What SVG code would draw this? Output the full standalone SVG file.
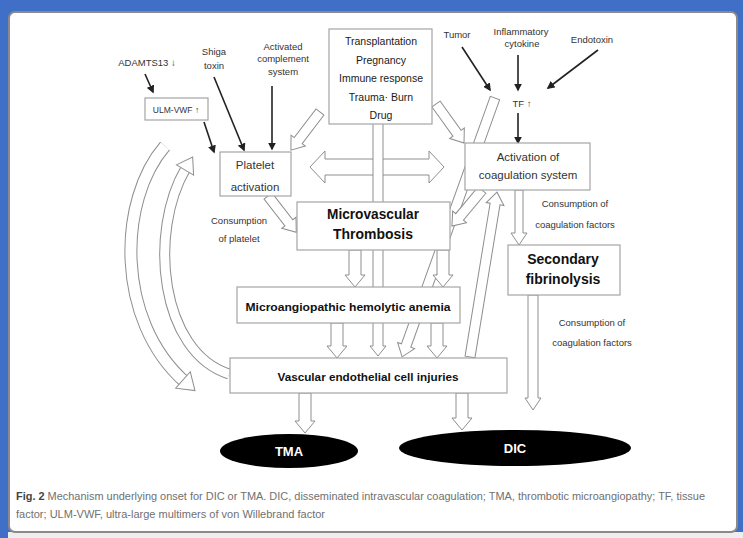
<svg xmlns="http://www.w3.org/2000/svg" width="743" height="538" viewBox="0 0 743 538">
<defs>
<marker id="ah" viewBox="0 0 10 10" refX="8" refY="5" markerWidth="5" markerHeight="5" orient="auto"><path d="M0,0 L10,5 L0,10 z" fill="#222"/></marker>
<style>
.lbl{font-family:'Liberation Sans',Arial,sans-serif;font-size:9.5px;fill:#333;text-anchor:middle}
.mid{font-size:11.5px;fill:#333}
.trg{font-size:10.5px;fill:#1a1a1a}
.bold{font-weight:bold;fill:#111}
.box{fill:#fff;stroke:#a5a5a5;stroke-width:1.2}
.hol{fill:#fff;stroke:#8e8e8e;stroke-width:1}
.blk{stroke:#222;stroke-width:1.6;fill:none;marker-end:url(#ah)}
.cap{font-family:'Liberation Sans',Arial,sans-serif;font-size:10px;fill:#707070}
</style>
</defs>
<rect x="0" y="0" width="743" height="538" fill="#3f6fc6"/>
<rect x="8" y="532" width="735" height="6" fill="#eeeeee"/>
<rect x="9" y="12" width="728" height="520" rx="6" fill="#fff" stroke="#8a8a8a" stroke-width="2"/>

<g id="connectors">
  <path class="blk" d="M145,74 L153,92"/>
  <path class="blk" d="M204,122 L214,152"/>
  <path class="blk" d="M214,77 L244,150"/>
  <path class="blk" d="M272,86 L272,149"/>
  <path class="blk" d="M462,47 L490,90"/>
  <path class="blk" d="M518,55 L518,90"/>
  <path class="blk" d="M598,50 L548,88"/>
  <path class="blk" d="M518,113 L518,143"/>
  <polygon class="hol" transform="translate(495,98) rotate(109.75)" points="0,-5 263,-5 263,-9 275,0 263,9 263,5 0,5"/>
  <polygon class="hol" transform="translate(470,357) rotate(-80.7)" points="0,-5 155,-5 155,-9 167,0 155,9 155,5 0,5"/>
  <path d="M165,146 C118,200 115,320 185,382" fill="none" stroke="#8e8e8e" stroke-width="13"/>
  <path d="M165,146 C118,200 115,320 185,382" fill="none" stroke="#fff" stroke-width="11"/>
  <polygon class="hol" transform="translate(183,380) rotate(41.5)" points="0,-11 16,0 0,11"/>
  <path d="M229,374 C160,352 148,232 186,168" fill="none" stroke="#8e8e8e" stroke-width="11"/>
  <path d="M229,374 C160,352 148,232 186,168" fill="none" stroke="#fff" stroke-width="9"/>
  <polygon class="hol" transform="translate(185,170) rotate(-59.3)" points="0,-10 15,0 0,10"/>
  <polygon class="hol" transform="translate(320,112) rotate(127.3)" points="0,-5 36,-5 36,-9 48,0 36,9 36,5 0,5"/>
  <polygon class="hol" transform="translate(436,104) rotate(54.3)" points="0,-5 36,-5 36,-9 48,0 36,9 36,5 0,5"/>
  <polygon class="hol" transform="translate(268,196) rotate(52.1)" points="0,-5 34,-5 34,-9 46,0 34,9 34,5 0,5"/>
  <polygon class="hol" transform="translate(482,190) rotate(129.8)" points="0,-5 35,-5 35,-9 47,0 35,9 35,5 0,5"/>
  <polygon class="hol" points="310,167 325,151 325,159 429,159 429,151 444,167 429,183 429,175 325,175 325,183"/>
  <polygon class="hol" points="373,123 373,346 370,346 378,356 386,346 383,346 383,123"/>
  <polygon class="hol" points="349,250 349,275 345,275 355,287 365,275 361,275 361,250"/>
  <polygon class="hol" points="437,250 437,275 433,275 443,287 453,275 449,275 449,250"/>
  <polygon class="hol" points="331,323 331,346 327,346 337,358 347,346 343,346 343,323"/>
  <polygon class="hol" points="431,323 431,346 427,346 437,358 447,346 443,346 443,323"/>
  <polygon class="hol" points="515,190 515,233 511,233 519,245 527,233 523,233 523,190"/>
  <polygon class="hol" points="528,295 528,398 525,398 533,410 541,398 538,398 538,295"/>
  <polygon class="hol" points="299,393 299,421 295,421 305,433 315,421 311,421 311,393"/>
  <polygon class="hol" points="456,393 456,418 452,418 462,430 472,418 468,418 468,393"/>
</g>

<g id="adamts13"><text class="lbl" x="147" y="66">ADAMTS13 ↓</text></g>
<g id="ulmvwf"><rect class="box" x="145" y="98" width="63" height="22"/><text class="lbl" x="176" y="113" style="font-size:8.5px">ULM-VWF ↑</text></g>
<g id="shiga"><text class="lbl" x="214" y="55">Shiga</text><text class="lbl" x="214" y="69">toxin</text></g>
<g id="complement"><text class="lbl" x="283" y="50">Activated</text><text class="lbl" x="283" y="62">complement</text><text class="lbl" x="283" y="75">system</text></g>
<g id="triggers">
  <rect class="box" x="329" y="29" width="103" height="95"/>
  <text class="lbl trg" x="381" y="45">Transplantation</text>
  <text class="lbl trg" x="381" y="64">Pregnancy</text>
  <text class="lbl trg" x="381" y="82">Immune response</text>
  <text class="lbl trg" x="381" y="101">Trauma· Burn</text>
  <text class="lbl trg" x="381" y="119">Drug</text>
</g>
<g id="tumor"><text class="lbl" x="457" y="38">Tumor</text></g>
<g id="cytokine"><text class="lbl" x="521" y="35">Inflammatory</text><text class="lbl" x="522" y="47">cytokine</text></g>
<g id="endotoxin"><text class="lbl" x="592" y="43">Endotoxin</text></g>
<g id="tf"><text class="lbl" x="522" y="107">TF ↑</text></g>
<g id="platelet"><rect class="box" x="220" y="152" width="71" height="44"/><text class="lbl mid" x="255" y="169">Platelet</text><text class="lbl mid" x="255" y="191">activation</text></g>
<g id="coagulation"><rect class="box" x="465" y="143" width="125" height="47"/><text class="lbl mid" x="528" y="161">Activation of</text><text class="lbl mid" x="528" y="179">coagulation system</text></g>
<g id="consumption-platelet"><text class="lbl" x="239" y="224">Consumption</text><text class="lbl" x="239" y="242">of platelet</text></g>
<g id="thrombosis"><rect class="box" x="297" y="202" width="153" height="48"/><text class="lbl bold" x="373" y="219" style="font-size:15px" textLength="92" lengthAdjust="spacingAndGlyphs">Microvascular</text><text class="lbl bold" x="373" y="239" style="font-size:15px" textLength="80" lengthAdjust="spacingAndGlyphs">Thrombosis</text></g>
<g id="consumption-coag1"><text class="lbl" x="575" y="207">Consumption of</text><text class="lbl" x="575" y="228">coagulation factors</text></g>
<g id="fibrinolysis"><rect class="box" x="508" y="245" width="112" height="50"/><text class="lbl bold" x="563" y="264" style="font-size:14px">Secondary</text><text class="lbl bold" x="563" y="284" style="font-size:14px">fibrinolysis</text></g>
<g id="consumption-coag2"><text class="lbl" x="592" y="326">Consumption of</text><text class="lbl" x="592" y="346">coagulation factors</text></g>
<g id="mha"><rect class="box" x="237" y="287" width="223" height="36"/><text class="lbl bold" x="348" y="311" style="font-size:11px" textLength="205" lengthAdjust="spacingAndGlyphs">Microangiopathic hemolytic anemia</text></g>
<g id="vascular"><rect class="box" x="230" y="358" width="277" height="35"/><text class="lbl bold" x="368" y="381" style="font-size:10.5px" textLength="181" lengthAdjust="spacingAndGlyphs">Vascular endothelial cell injuries</text></g>
<g id="tma"><ellipse cx="289" cy="451" rx="69" ry="17" fill="#000"/><text class="lbl bold" x="289" y="456" style="font-size:13px;fill:#fff">TMA</text></g>
<g id="dic"><ellipse cx="515" cy="448" rx="116" ry="18" fill="#000"/><text class="lbl bold" x="515" y="453" style="font-size:13px;fill:#fff">DIC</text></g>
<g id="caption">
  <text class="cap" x="16" y="500" textLength="689" lengthAdjust="spacingAndGlyphs"><tspan font-weight="bold" fill="#444">Fig. 2</tspan> Mechanism underlying onset for DIC or TMA. DIC, disseminated intravascular coagulation; TMA, thrombotic microangiopathy; TF, tissue</text>
  <text class="cap" x="16" y="518" textLength="309" lengthAdjust="spacingAndGlyphs">factor; ULM-VWF, ultra-large multimers of von Willebrand factor</text>
</g>
</svg>
